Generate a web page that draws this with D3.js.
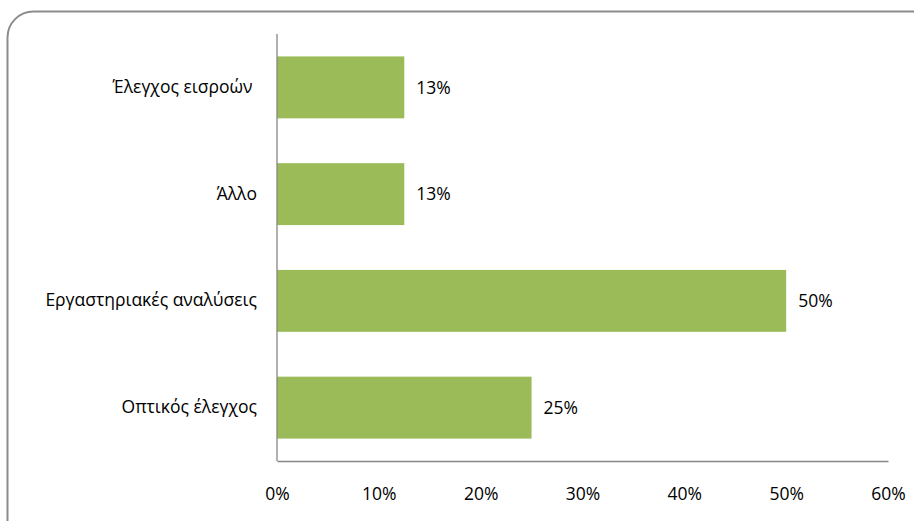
<!DOCTYPE html>
<html>
<head>
<meta charset="utf-8">
<script src="https://cdn.jsdelivr.net/npm/d3@7"></script>
<style>
  body { margin: 0; background: #fff; }
  text { font-family: "Open Sans", "Noto Sans", sans-serif; fill: #000; }
</style>
</head>
<body>
<script>
//categories top to bottom and their shares (percent)
var categories = ["Έλεγχος εισροών ", "Άλλο", "Εργαστηριακές αναλύσεις", "Οπτικός έλεγχος"];
var values = [12.5, 12.5, 50, 25];
var valueLabels = ["13%", "13%", "50%", "25%"];
var xTicks = [0, 10, 20, 30, 40, 50, 60];

var width = 914, height = 521;
var margin = {top: 34, right: 26, bottom: 60, left: 277};
var fontSize = 17.5;

var svg = d3.select("body").append("svg")
    .attr("width", width)
    .attr("height", height);

//rounded frame, runs off right and bottom
svg.append("rect")
    .attr("x", 7.5)
    .attr("y", 11.5)
    .attr("width", 940)
    .attr("height", 560)
    .attr("rx", 26)
    .attr("fill", "none")
    .attr("stroke", "#8c8c8c")
    .attr("stroke-width", 2);

var x = d3.scaleLinear()
    .domain([0, 60])
    .range([margin.left, width - margin.right]);

var y = d3.scaleBand()
    .domain(categories)
    .range([margin.top, height - margin.bottom])
    .paddingInner(0.42)
    .paddingOuter(0.21);

//bars
svg.selectAll(".bar")
    .data(values)
    .enter().append("rect")
    .attr("class", "bar")
    .attr("x", x(0))
    .attr("y", (d, i) => y(categories[i]))
    .attr("width", d => x(d) - x(0))
    .attr("height", y.bandwidth())
    .attr("fill", "#9bbb59");

//value labels
svg.selectAll(".val")
    .data(values)
    .enter().append("text")
    .attr("class", "val")
    .attr("x", d => x(d) + 12)
    .attr("y", (d, i) => y(categories[i]) + y.bandwidth() / 2)
    .attr("dy", "0.35em")
    .attr("font-size", fontSize)
    .text((d, i) => valueLabels[i]);

//y axis (line + category labels, no ticks)
var yAxis = svg.append("g")
    .attr("transform", "translate(" + x(0) + ",0)")
    .call(d3.axisLeft(y).tickSize(0).tickPadding(20));
yAxis.select(".domain").attr("stroke", "#868686").attr("stroke-width", 1.3)
    .attr("d", "M0," + margin.top + "V" + (height - margin.bottom));
yAxis.selectAll("text")
    .attr("font-size", fontSize)
    .attr("font-family", "'Open Sans', 'Noto Sans', sans-serif")
    .style("white-space", "pre");

//x axis (labels only, baseline)
var xAxis = svg.append("g")
    .attr("transform", "translate(0," + (height - margin.bottom) + ")")
    .call(d3.axisBottom(x).tickValues(xTicks).tickSize(0).tickPadding(27)
        .tickFormat(d => d + "%"));
xAxis.select(".domain").attr("stroke", "#868686").attr("stroke-width", 1.3);
xAxis.selectAll("text")
    .attr("font-size", fontSize)
    .attr("font-family", "'Open Sans', 'Noto Sans', sans-serif");
</script>
</body>
</html>
